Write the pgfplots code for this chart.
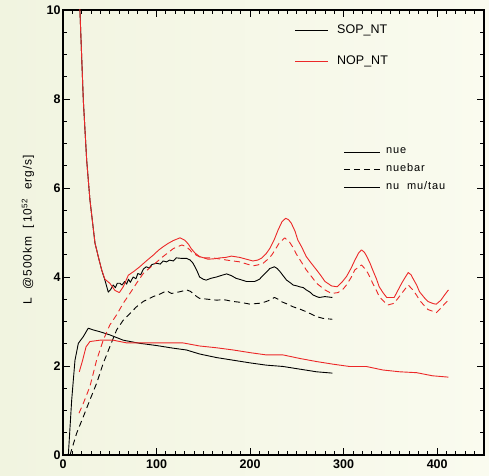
\documentclass[border=0pt]{standalone}
\usepackage{pgfplots}
\pgfplotsset{compat=1.18}
\usepackage{fontspec}
\setmainfont{Liberation Sans}
\newfontfamily\keyfont[LetterSpace=8]{Liberation Sans}
\definecolor{bgL}{RGB}{241,244,224}
\definecolor{bgR}{RGB}{250,251,239}
\definecolor{nopred}{RGB}{236,40,40}

\begin{document}
\begin{tikzpicture}[x=1pt,y=1pt]
% page background
\shade[left color=bgL,right color=bgR] (-63,-20) rectangle (426,455);
\begin{axis}[
  at={(0,0)}, anchor=south west,
  scale only axis, width=421pt, height=445pt,
  xmin=0, xmax=450, ymin=0, ymax=10,
  axis line style={line width=1.4pt},
  xtick={0,100,...,400}, minor xtick={0,10,...,450},
  ytick={0,2,...,10}, minor ytick={0,0.5,...,10},
  tick align=inside,
  major tick length=7pt, minor tick length=4pt,
  every tick/.style={black, line width=0.9pt},
  tick label style={font=\fontsize{12.5}{12.5}\selectfont\bfseries},
  xticklabel style={yshift=-1pt},
  yticklabel style={xshift=1pt},
  /pgf/number format/assume math mode=true,
  ylabel={\keyfont L\ \ @500km\ \ [\,10\textsuperscript{52}\ \ erg/s]},
  ylabel style={font=\fontsize{12}{12}\selectfont, at={(-35pt,225pt)}, anchor=center},
  clip=true,
  every axis plot/.append style={line width=0.9pt, line join=round},
]
% SOP_NT: nue
\addplot[black] coordinates {
(17,10.6)(21.7,7.98)(25.3,6.63)(28.8,5.73)(34.2,4.76)(37.7,4.46)(41.3,4.16)(44.8,3.93)(48.4,3.66)
(51,3.72)(53.7,3.82)(56,3.76)(58,3.86)(60.9,3.86)(63,3.82)(66,3.90)(68,3.84)(70,3.95)(72,3.88)(75,4.00)
(78,3.96)(80,4.08)(83,4.05)(86,4.18)(89,4.23)(92,4.20)(95,4.28)(100,4.31)(104,4.29)(107,4.36)(110.7,4.34)
(114,4.38)(118,4.36)(121,4.43)(126,4.42)(132,4.42)(136,4.38)(139,4.31)(143,4.15)(146,4.00)(150,3.95)
(153,3.93)(158,3.97)(164,4.00)(170,4.04)(175,4.07)(180,4.03)(185,3.97)(190,3.94)(196,3.90)(205,3.90)
(210,3.95)(214,4.04)(218,4.12)(221,4.19)(226,4.23)(229,4.19)(232,4.12)(236,4.01)(239,3.93)(243,3.87)
(246,3.82)(250,3.80)(253,3.78)(257,3.76)(260,3.71)(264,3.66)(267,3.60)(271,3.56)(274,3.54)(280,3.56)(288,3.54)};
% SOP_NT: nuebar
\addplot[black, dash pattern=on 6pt off 4pt] coordinates {
(7.5,0)(14.6,0.49)(21.7,0.86)(28.8,1.24)(35.9,1.61)(43,2.06)(50,2.43)(57.3,2.81)(64.4,3.03)(71.5,3.18)
(78.6,3.33)(85.8,3.45)(96.4,3.56)(104,3.62)(110.7,3.69)(116,3.63)(121,3.65)(127,3.68)(132,3.71)(136,3.68)
(139,3.63)(143,3.56)(146,3.52)(155,3.50)(164,3.48)(172,3.49)(182,3.45)(190,3.43)(200,3.39)(210,3.41)
(216,3.44)(221,3.48)(226,3.54)(230,3.50)(233,3.45)(240,3.39)(246,3.33)(253,3.28)(260,3.22)(266,3.16)
(271,3.11)(278,3.07)(288,3.05)};
% SOP_NT: nu mu/tau
\addplot[black] coordinates {
(5.7,0)(9.3,1.24)(12.8,2.13)(16.4,2.51)(21.7,2.66)(27,2.85)(32.4,2.81)(39.5,2.77)(50,2.70)(64.4,2.58)
(82,2.51)(100,2.46)(118,2.40)(132,2.36)(146,2.27)(164,2.19)(182,2.13)(200,2.07)(217,2.02)(235,1.99)
(253,1.93)(271,1.87)(288,1.84)};
% NOP_NT: nue
\addplot[nopred] coordinates {
(17,10.6)(21.7,7.98)(25.3,6.63)(28.8,5.73)(34.2,4.76)(37.7,4.46)(41.3,4.16)(44.8,3.95)(50,3.86)(55.5,3.70)
(60.2,3.65)(64.4,3.78)(69.8,4.04)(76,4.13)(82,4.23)(89,4.36)(96.4,4.49)(102,4.60)(107,4.68)(112,4.75)(118,4.82)
(125,4.88)(130,4.83)(134,4.74)(137,4.64)(141,4.54)(146,4.46)(155,4.40)(162,4.41)(168,4.43)(174,4.44)
(180,4.47)(189,4.44)(196,4.40)(203,4.36)(208,4.38)(212,4.42)(217,4.52)(221,4.64)(226,4.85)(230,5.06)
(234,5.24)(238,5.32)(241,5.29)(244,5.21)(248,5.03)(251,4.83)(255,4.68)(260,4.46)(265,4.32)(271,4.16)
(276,4.02)(280,3.90)(287,3.80)(293,3.78)(298,3.88)(303,4.01)(308,4.20)(312,4.38)(316,4.54)(319,4.61)
(322,4.56)(324,4.49)(328,4.32)(331,4.16)(335,3.96)(338,3.78)(342,3.65)(346,3.54)(354,3.54)(358,3.70)
(362,3.86)(366,4.00)(369,4.10)(372,4.05)(374,3.97)(378,3.82)(381,3.67)(386,3.54)(390,3.45)(396,3.40)
(399,3.39)(404,3.48)(408,3.60)(412,3.71)};
% NOP_NT: nuebar
\addplot[nopred, dash pattern=on 6pt off 4pt] coordinates {
(17.1,0.94)(21.7,1.16)(28.8,1.54)(35.9,2.13)(43,2.58)(50,2.92)(57.3,3.15)(64.4,3.41)(71.5,3.63)(78.6,3.86)
(85.8,4.08)(96.4,4.27)(107,4.46)(118,4.64)(127,4.72)(132,4.68)(136,4.60)(139,4.53)(148,4.43)(160,4.43)
(175,4.38)(189,4.34)(203,4.25)(208,4.27)(214,4.31)(219,4.40)(223,4.49)(227,4.62)(231,4.76)(237,4.88)
(242,4.79)(246,4.66)(249,4.53)(255,4.33)(260,4.16)(266,4.00)(271,3.86)(280,3.71)(287,3.63)(294,3.65)
(299,3.72)(303,3.82)(308,3.99)(312,4.16)(319,4.27)(324,4.16)(328,4.00)(331,3.86)(335,3.70)(338,3.56)
(343,3.45)(347,3.37)(354,3.41)(358,3.52)(362,3.63)(366,3.74)(369,3.82)(374,3.71)(378,3.59)(381,3.48)
(386,3.36)(390,3.27)(399,3.20)(404,3.30)(408,3.40)(412,3.48)};
% NOP_NT: nu mu/tau
\addplot[nopred] coordinates {
(17.4,1.87)(21,2.13)(24.6,2.43)(28.8,2.55)(39.5,2.58)(53.7,2.58)(68,2.52)(82,2.52)(100,2.52)(128,2.52)
(146,2.45)(164,2.41)(182,2.36)(200,2.30)(217,2.25)(235,2.25)(253,2.17)(271,2.10)(289,2.04)(306,1.99)
(324,1.99)(342,1.91)(360,1.87)(378,1.85)(395,1.78)(412,1.75)};
\end{axis}
% model key
\begin{scope}[font=\fontsize{12.5}{12.5}\selectfont]
\draw[black, line width=0.9pt] (232,425) -- (265,425);
\node[anchor=west, inner sep=0pt] at (274,425) {SOP\_NT};
\draw[nopred, line width=0.9pt] (232,394) -- (265,394);
\node[anchor=west, inner sep=0pt] at (274,394) {NOP\_NT};
\end{scope}
% flavour key
\begin{scope}[font=\keyfont\fontsize{11}{11}\selectfont]
\draw[black, line width=0.9pt] (281,303) -- (317,303);
\node[anchor=west, inner sep=0pt] at (323,304) {nue};
\draw[black, line width=0.9pt, dash pattern=on 6pt off 4pt] (281,286) -- (317,286);
\node[anchor=west, inner sep=0pt] at (323,287) {nuebar};
\draw[black, line width=0.9pt] (281,268) -- (317,268);
\node[anchor=west, inner sep=0pt] at (323,269) {nu\ \ mu/tau};
\end{scope}
\pgfresetboundingbox
\useasboundingbox (-63,-20) rectangle (426,455);
\end{tikzpicture}
\end{document}
